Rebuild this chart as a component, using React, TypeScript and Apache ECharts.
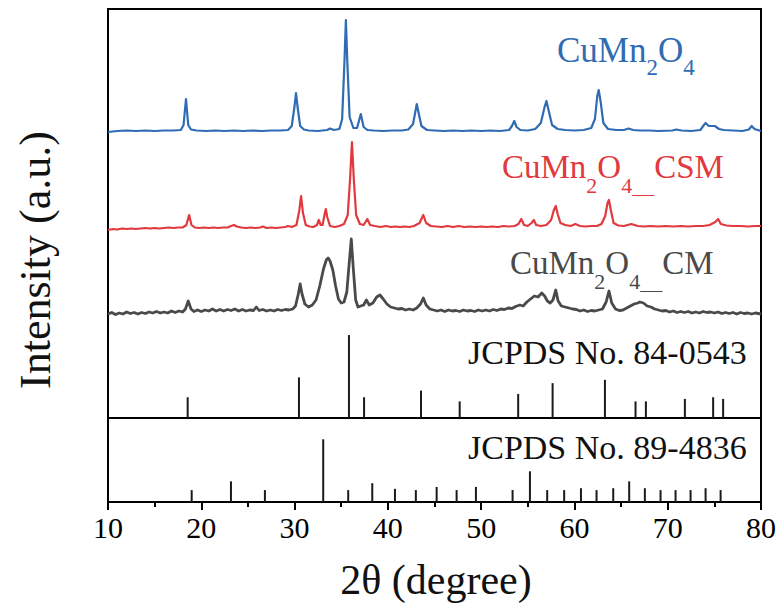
import React, { useEffect, useRef } from "react";
import * as echarts from "echarts";

// ---- data (2θ in degrees; curve heights are intensity above each pattern's own baseline) ----
const X_MIN = 10;
const X_MAX = 80;
const X_TICKS = [10, 20, 30, 40, 50, 60, 70, 80];

const CUMN2O4: [number, number][] = [
  [10, -1], [11, 0], [12, 0.5], [13, 0], [14, 0.5], [15, 0], [16, 0.5], [17, 0.5], [17.8, 1], [18.1, 6], [18.36, 32], [18.6, 6], [18.9, 1.5],
  [19.5, 0.5], [20.5, 0], [21.5, 0.5], [22.5, 0], [23.5, 0.5], [24.5, 0], [25.5, 0.5], [26.5, 0], [27.5, 0.5], [28.5, 0.5], [29.3, 1],
  [29.7, 5], [30.0, 25], [30.15, 38], [30.35, 22], [30.6, 5], [31, 1.5], [31.5, 0.5], [32.5, 0], [33.5, 1], [33.8, 2.5], [34.2, 1],
  [34.8, 2], [35.1, 12], [35.35, 70], [35.5, 111], [35.65, 70], [35.9, 14], [36.3, 3], [36.7, 3], [37.1, 17], [37.4, 4], [37.8, 1],
  [38.5, 0.5], [39.5, 0], [40.5, 0.5], [41.5, 0.5], [42.2, 1.5], [42.7, 7], [43.0, 22], [43.1, 27], [43.3, 18], [43.6, 5], [44.2, 1],
  [45, 0.5], [46, 0], [47, 0.5], [48, 0], [49, 0.5], [50, 0], [51, 0.5], [52, 0], [53, 1], [53.3, 5], [53.55, 10], [53.8, 4], [54.2, 1],
  [55, 0.5], [55.8, 2], [56.4, 8], [56.8, 24], [57.0, 30], [57.2, 22], [57.6, 6], [58.2, 2], [59, 1], [60, 0.5], [61, 1], [61.8, 3],
  [62.2, 12], [62.45, 35], [62.6, 41], [62.8, 30], [63.1, 8], [63.6, 2], [64.5, 1], [65.3, 1], [65.8, 2.5], [66.3, 1], [67, 0.5],
  [68, 0.5], [69, 0], [70.5, 0.5], [70.9, 1.5], [71.5, 0.5], [72.5, 0], [73.5, 1], [73.8, 5], [74.06, 8], [74.4, 5], [74.7, 5],
  [75.05, 5], [75.5, 2], [76, 1], [77, 0.5], [78, 0], [78.7, 1.5], [79, 5], [79.3, 2], [80, 0],
];

const CUMN2O4_CSM: [number, number][] = [
  [10, -1], [10.5, 0], [11, -0.5], [11.5, 0.5], [12, 0], [12.5, 0.5], [13, 0], [13.5, 0.5], [14, 1], [14.5, 0.5], [15, 1], [15.5, 0.5],
  [16, 1], [16.5, 1.5], [17, 1], [17.5, 1.5], [18, 1.5], [18.4, 4], [18.7, 14], [18.95, 4], [19.3, 1.5], [19.8, 1], [20.3, 1.5],
  [20.8, 1], [21.3, 1.5], [21.8, 1], [22.3, 1.5], [22.8, 1.5], [23.2, 3], [23.5, 4], [23.8, 2.5], [24.3, 1.5], [24.8, 1], [25.3, 1.5],
  [25.8, 1], [26.3, 1.5], [26.6, 2.5], [27, 1], [27.5, 1.5], [28, 1], [28.5, 1.5], [29, 2], [29.3, 3], [29.7, 2], [30.2, 4],
  [30.5, 18], [30.7, 33], [30.9, 16], [31.2, 4], [31.6, 2.5], [32, 2], [32.4, 4], [32.6, 9], [32.8, 4], [33.0, 4], [33.2, 14],
  [33.35, 20], [33.5, 12], [33.8, 3], [34.3, 2], [34.8, 3], [35.3, 5], [35.7, 14], [35.95, 50], [36.15, 87], [36.35, 50], [36.6, 14],
  [37.0, 5], [37.4, 4], [37.8, 10], [38.1, 4], [38.6, 3], [39.2, 2], [39.8, 3], [40.3, 2], [40.8, 2.5], [41.3, 2], [41.8, 2.5],
  [42.3, 2], [42.8, 3], [43.4, 6], [43.8, 14], [44.1, 6], [44.6, 3], [45.2, 2.5], [45.8, 2], [46.4, 3], [47, 2], [47.6, 3], [48.2, 2],
  [48.8, 2.5], [49.4, 2], [50, 2.5], [50.6, 2], [51.2, 2.5], [51.8, 2], [52.4, 3], [53, 2.5], [53.6, 3], [54.0, 5], [54.3, 10],
  [54.6, 4], [55.0, 3], [55.4, 6], [55.65, 9], [55.9, 4], [56.4, 3], [57.0, 4], [57.5, 9], [57.8, 19], [58.0, 23], [58.2, 15],
  [58.5, 6], [59, 4], [59.6, 3], [60.1, 5], [60.6, 3], [61.2, 2.5], [61.8, 3], [62.4, 3], [62.9, 5], [63.3, 13], [63.55, 26],
  [63.7, 29], [63.9, 19], [64.2, 6], [64.7, 3.5], [65.3, 3], [66.1, 5], [66.8, 3], [67.5, 2.5], [68.2, 3], [69, 2.5], [69.8, 3],
  [70.6, 2.5], [71.4, 3], [72.2, 2.5], [73, 3], [73.8, 3], [74.5, 4], [75.1, 7], [75.4, 10], [75.7, 5], [76.3, 3.5], [77, 3],
  [77.8, 3], [78.6, 2.5], [79.4, 3], [80, 3],
];

const CUMN2O4_CM: [number, number][] = [
  [10, 0], [10.4, 1.5], [10.8, -0.5], [11.2, 1], [11.6, 0], [12, 2], [12.4, 0.5], [12.8, 1.5], [13.2, 0], [13.6, 1.5], [14, 0.5],
  [14.4, 2], [14.8, 1], [15.2, 2.5], [15.6, 1], [16, 2], [16.4, 1], [16.8, 3], [17.2, 1.5], [17.6, 3], [18, 2], [18.3, 5], [18.6, 13],
  [18.9, 5], [19.2, 2.5], [19.6, 4], [20, 2.5], [20.4, 4], [20.8, 3], [21.2, 5], [21.6, 3], [22, 4.5], [22.4, 3], [22.8, 4.5],
  [23.2, 3.5], [23.6, 5], [24, 3], [24.4, 4.5], [24.8, 3], [25.2, 4], [25.6, 3.5], [25.9, 7], [26.2, 3.5], [26.6, 4.5], [27, 3],
  [27.4, 4], [27.8, 3], [28.2, 4.5], [28.6, 3.5], [29, 4.5], [29.4, 4], [29.8, 5], [30.1, 8], [30.4, 20], [30.6, 30], [30.8, 20],
  [31.1, 10], [31.5, 7], [31.9, 9], [32.3, 14], [32.7, 28], [33.1, 45], [33.4, 54], [33.6, 56], [33.8, 53], [34.1, 44], [34.4, 28],
  [34.7, 15], [35.0, 11], [35.3, 12], [35.6, 22], [35.85, 50], [36.08, 75], [36.3, 45], [36.55, 14], [36.8, 7], [37.1, 8], [37.4, 9],
  [37.7, 14], [38.0, 9], [38.4, 11], [38.8, 17], [39.15, 19], [39.5, 15], [39.9, 10], [40.3, 7], [40.7, 6], [41.1, 5], [41.5, 5.5],
  [41.9, 4], [42.3, 5], [42.7, 4], [43.1, 6], [43.5, 10], [43.8, 16], [44.1, 9], [44.5, 5], [44.9, 4], [45.3, 3], [45.7, 4],
  [46.1, 2.5], [46.5, 4], [46.9, 3], [47.3, 3.5], [47.7, 2.5], [48.1, 4], [48.5, 3], [48.9, 3.5], [49.3, 2.5], [49.7, 4], [50.1, 3],
  [50.5, 4], [50.9, 3], [51.3, 4.5], [51.7, 3.5], [52.1, 5], [52.5, 4.5], [52.9, 6], [53.3, 5.5], [53.7, 7.5], [54.15, 9], [54.5, 8],
  [54.9, 12], [55.3, 15], [55.7, 18], [56.1, 17], [56.5, 21], [56.8, 18], [57.1, 13], [57.4, 11], [57.7, 14], [58.0, 24],
  [58.25, 13], [58.6, 8], [59, 7], [59.4, 6], [59.8, 5], [60.2, 4.5], [60.6, 3], [61, 4], [61.4, 2.5], [61.8, 3.5], [62.2, 3],
  [62.6, 4], [63, 5], [63.4, 12], [63.7, 23], [64.0, 11], [64.4, 5], [64.8, 3.5], [65.2, 4], [65.6, 6], [66, 8], [66.4, 10],
  [66.8, 11], [67.0, 12], [67.4, 11], [67.8, 8], [68.2, 7], [68.6, 5], [69, 4], [69.4, 3], [69.8, 3.5], [70.2, 2], [70.6, 3],
  [71, 1.5], [71.4, 2.5], [71.8, 1.5], [72.2, 2.5], [72.6, 1], [73, 2], [73.4, 1], [73.8, 2.5], [74.2, 1.5], [74.6, 2], [75, 1],
  [75.4, 2], [75.8, 0.5], [76.2, 1.5], [76.6, 0.5], [77, 1.5], [77.4, 0], [77.8, 1.5], [78.2, 0.5], [78.6, 1], [79, 0], [79.4, 1],
  [80, 0],
];

// vertical offsets of the stacked patterns
const OFFSET_CM = 104;
const OFFSET_CSM = 189;
const OFFSET_PURE = 287;

// reference patterns: [2θ, relative intensity]
const JCPDS_84_0543: [number, number][] = [
  [18.54, 25], [30.47, 49], [35.83, 100], [37.45, 25], [43.55, 33], [47.7, 20], [53.97, 29], [57.66, 42], [63.27, 46],
  [66.55, 20], [67.66, 20], [71.84, 23], [74.87, 25], [75.94, 23],
];
const JCPDS_89_4836: [number, number][] = [
  [18.97, 19], [23.18, 33], [26.82, 19], [33.07, 100], [35.75, 19], [38.33, 30], [40.76, 21], [43.0, 19], [45.23, 24],
  [47.37, 19], [49.44, 24], [53.37, 19], [55.23, 49], [57.08, 19], [58.9, 19], [60.7, 22], [62.37, 19], [64.16, 22],
  [65.87, 33], [67.55, 22], [69.23, 19], [70.84, 19], [72.45, 19], [74.06, 22], [75.67, 19],
];

const LABEL_PURE = "CuMn2O4";
const LABEL_CSM = "CuMn2O4_CSM";
const LABEL_CM = "CuMn2O4_CM";
const LABEL_REF1 = "JCPDS No. 84-0543";
const LABEL_REF2 = "JCPDS No. 89-4836";

const FONT = "Liberation Serif";
const BLUE = "#2f6cb3";
const RED = "#e1393e";
const GREY = "#4a4a4a";

function richFormula(label: string) {
  // CuMn2O4_XXX -> rich text with subscripts
  const m = label.match(/^CuMn2O4(_(.*))?$/);
  let s = "{m|CuMn}{s|2}{m|O}{s|4}";
  if (m && m[2]) s += "{s|__}{m|" + m[2] + "}";
  return s;
}

function richStyles(color: string, size: number) {
  const sub = Math.round(size * 0.66);
  return {
    m: { fontSize: size, lineHeight: 46, fontFamily: FONT, fill: color, color, verticalAlign: "top" },
    s: { fontSize: sub, lineHeight: 18, fontFamily: FONT, fill: color, color, verticalAlign: "bottom" },
  };
}

export default function App() {
  const ref = useRef<HTMLDivElement>(null);
  useEffect(() => {
    if (!ref.current) return;
    const chart = echarts.init(ref.current, undefined, { renderer: "svg" });
    const lineSeries = (name: string, data: [number, number][], off: number, color: string, width: number) => ({
      name,
      type: "line",
      xAxisIndex: 0,
      yAxisIndex: 0,
      data: data.map(([x, y]) => [x, y + off]),
      showSymbol: false,
      symbol: "none",
      lineStyle: { color, width, join: "round" },
      z: 3,
    });
    chart.setOption({
      animation: false,
      backgroundColor: "#ffffff",
      grid: [
        { left: 108, right: 22, top: 9, height: 409, show: true, borderColor: "#000", borderWidth: 2, backgroundColor: "transparent" },
        { left: 108, right: 22, top: 418, height: 84, show: true, borderColor: "#000", borderWidth: 2, backgroundColor: "transparent" },
      ],
      xAxis: [
        {
          gridIndex: 0, type: "value", min: X_MIN, max: X_MAX, interval: 10,
          axisLine: { show: false }, axisTick: { show: false }, axisLabel: { show: false }, splitLine: { show: false },
        },
        {
          gridIndex: 1, type: "value", min: X_MIN, max: X_MAX, interval: 10,
          axisLine: { show: true, lineStyle: { color: "#000", width: 2 } },
          axisTick: { show: true, length: 8, lineStyle: { color: "#000", width: 2 } },
          minorTick: { show: true, splitNumber: 2, length: 5, lineStyle: { color: "#000", width: 2 } },
          axisLabel: {
            show: true, fontSize: 30, color: "#000", fontFamily: FONT, margin: 10,
            formatter: (v: number) => (X_TICKS.includes(v) ? String(v) : ""),
          },
          splitLine: { show: false }, minorSplitLine: { show: false },
        },
      ],
      yAxis: [
        { gridIndex: 0, type: "value", min: 0, max: 409, show: false },
        { gridIndex: 0, type: "value", min: 0, max: 493, show: false },
        { gridIndex: 1, type: "value", min: 0, max: 134, show: false },
      ],
      series: [
        lineSeries(LABEL_PURE, CUMN2O4, OFFSET_PURE, BLUE, 2.2),
        lineSeries(LABEL_CSM, CUMN2O4_CSM, OFFSET_CSM, RED, 2.2),
        lineSeries(LABEL_CM, CUMN2O4_CM, OFFSET_CM, GREY, 2.8),
        {
          name: LABEL_REF1, type: "bar", xAxisIndex: 0, yAxisIndex: 1, barWidth: 2,
          data: JCPDS_84_0543, itemStyle: { color: "#1a1a1a" }, z: 2,
        },
        {
          name: LABEL_REF2, type: "bar", xAxisIndex: 1, yAxisIndex: 2, barWidth: 2,
          data: JCPDS_89_4836, itemStyle: { color: "#1a1a1a" }, z: 2,
        },
      ],
      graphic: [
        {
          type: "text", left: 557, top: 33, z: 10,
          style: { text: richFormula(LABEL_PURE), rich: richStyles(BLUE, 35), fill: BLUE },
        },
        {
          type: "text", left: 502, top: 150, z: 10,
          style: { text: richFormula(LABEL_CSM), rich: richStyles(RED, 33), fill: RED },
        },
        {
          type: "text", left: 510, top: 246, z: 10,
          style: { text: richFormula(LABEL_CM), rich: richStyles(GREY, 33), fill: GREY },
        },
        {
          type: "text", left: 468, top: 335, z: 10,
          style: { text: LABEL_REF1, fontSize: 34, fontFamily: FONT, fill: "#111" },
        },
        {
          type: "text", left: 468, top: 430, z: 10,
          style: { text: LABEL_REF2, fontSize: 34, fontFamily: FONT, fill: "#111" },
        },
        {
          type: "text", x: 35, y: 260, rotation: Math.PI / 2, z: 10,
          style: {
            text: "Intensity (a.u.)", fontSize: 44, fontFamily: FONT, fill: "#111",
            align: "center", verticalAlign: "middle", textAlign: "center", textVerticalAlign: "middle",
          },
        },
        {
          type: "text", x: 436, y: 580, z: 10,
          style: {
            text: "2θ (degree)", fontSize: 42, fontFamily: FONT, fill: "#111",
            align: "center", verticalAlign: "middle", textAlign: "center", textVerticalAlign: "middle",
          },
        },
      ],
    });
    return () => chart.dispose();
  }, []);
  return (
    <div
      ref={ref}
      style={{ position: "fixed", left: 0, top: 0, width: 783, height: 614, background: "#fff" }}
    />
  );
}
